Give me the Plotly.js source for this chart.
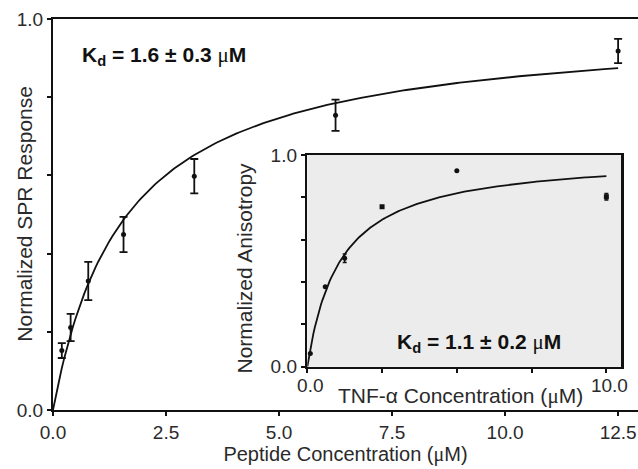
<!DOCTYPE html>
<html>
<head>
<meta charset="utf-8">
<script src="https://cdn.plot.ly/plotly-3.0.1.min.js"></script>
<style>html,body{margin:0;padding:0;background:#fff;}#chart{width:638px;height:469px;}</style>
</head>
<body>
<div id="chart"></div>
<script>
// Main SPR data
var sprConc = [0.195, 0.39, 0.78, 1.56, 3.125, 6.25, 12.5];
var sprResp = [0.152, 0.211, 0.330, 0.449, 0.598, 0.754, 0.918];
var sprErr  = [0.019, 0.035, 0.049, 0.045, 0.044, 0.040, 0.031];
var sprKd = 1.6, sprBmax = 0.986;

// Inset anisotropy data
var tnfConcCirc = [0.1, 0.6, 1.25, 5.0];
var anisoCirc   = [0.063, 0.378, 0.512, 0.926];
var anisoCircErr = [0, 0, 0.02, 0];
var tnfConcSq = [2.5, 10.0];
var anisoSq   = [0.756, 0.803];
var anisoSqErr = [0, 0.015];
var tnfKd = 1.1, tnfBmax = 1.0;

var mainTickVals = [0, 2.5, 5, 7.5, 10, 12.5];
var mainTickText = ["0.0", "2.5", "5.0", "7.5", "10.0", "12.5"];
var yTickVals = [0, 1.0];
var yTickText = ["0.0", "1.0"];
var yMinorVals = [0.2, 0.4, 0.6, 0.8];
var insetXTickVals = [0, 10];
var insetXTickText = ["0.0", "10.0"];
var insetXMinorVals = [2.5, 5, 7.5];

// Fitted single-site binding curves (from the Kd shown on the chart)
function fitCurve(kd, bmax, xmax) {
  var xs = [], ys = [];
  for (var i = 0; i <= 200; i++) {
    var x = xmax * i / 200;
    xs.push(x); ys.push(bmax * x / (kd + x));
  }
  return {x: xs, y: ys};
}
var sprFit = fitCurve(sprKd, sprBmax, 12.5);
var tnfFit = fitCurve(tnfKd, tnfBmax, 10.0);

var ink = '#111';
var txt = '#2a2a2a';
var fam = 'Liberation Sans, Arial, Helvetica, sans-serif';
var minorY = {tickvals: yMinorVals, ticks: 'outside', ticklen: 4, tickwidth: 2, tickcolor: ink, showgrid: false};

var traces = [
  {x: sprFit.x, y: sprFit.y, mode: 'lines', line: {color: ink, width: 1.8}, xaxis: 'x', yaxis: 'y', hoverinfo: 'skip'},
  {x: sprConc, y: sprResp, mode: 'markers', marker: {color: ink, size: 5},
   error_y: {type: 'data', array: sprErr, visible: true, color: ink, thickness: 1.8, width: 4},
   xaxis: 'x', yaxis: 'y'},
  {x: tnfFit.x, y: tnfFit.y, mode: 'lines', line: {color: ink, width: 1.8}, xaxis: 'x2', yaxis: 'y2', hoverinfo: 'skip'},
  {x: tnfConcCirc, y: anisoCirc, mode: 'markers', marker: {color: ink, size: 5, symbol: 'circle'},
   error_y: {type: 'data', array: anisoCircErr, visible: true, color: ink, thickness: 1.5, width: 2},
   xaxis: 'x2', yaxis: 'y2'},
  {x: tnfConcSq, y: anisoSq, mode: 'markers', marker: {color: ink, size: 5, symbol: 'square'},
   error_y: {type: 'data', array: anisoSqErr, visible: true, color: ink, thickness: 1.5, width: 2},
   xaxis: 'x2', yaxis: 'y2'}
];

var mu = '<span style="font-family:Liberation Serif, serif;font-weight:normal">μ</span>';

var layout = {
  width: 638, height: 469,
  margin: {l: 53, r: 0, t: 19, b: 59, pad: 0},
  paper_bgcolor: '#fff', plot_bgcolor: 'rgba(0,0,0,0)',
  showlegend: false,
  font: {family: fam, color: txt, size: 19},
  xaxis: {
    domain: [0, 1], range: [0, 12.94], tickvals: mainTickVals, ticktext: mainTickText,
    showline: true, linecolor: ink, linewidth: 2, mirror: true,
    ticks: 'outside', ticklen: 4, tickwidth: 2, tickcolor: ink,
    showgrid: false, zeroline: false, tickfont: {size: 19, color: txt},
    title: {text: 'Peptide Concentration (' + mu + 'M)', font: {size: 20, color: txt}, standoff: 4}
  },
  yaxis: {
    domain: [0, 1], range: [0, 1], tickvals: yTickVals, ticktext: yTickText, minor: minorY,
    showline: true, linecolor: ink, linewidth: 2,
    ticks: 'outside', ticklen: 4, tickwidth: 2, tickcolor: ink,
    showgrid: false, zeroline: false, tickfont: {size: 19, color: txt}
  },
  xaxis2: {
    domain: [0.4347, 0.9715], range: [0, 10.5], anchor: 'y2',
    tickvals: insetXTickVals, ticktext: insetXTickText,
    minor: {tickvals: insetXMinorVals, ticks: 'outside', ticklen: 4, tickwidth: 2, tickcolor: ink, showgrid: false},
    showline: true, linecolor: ink, linewidth: 2.5, mirror: true,
    ticks: 'outside', ticklen: 4, tickwidth: 2, tickcolor: ink, ticklabelshift: 3, ticklabelstandoff: -4,
    showgrid: false, zeroline: false, tickfont: {size: 19, color: txt}
  },
  yaxis2: {
    domain: [0.1107, 0.652], range: [0, 1], anchor: 'x2',
    tickvals: yTickVals, ticktext: yTickText, minor: minorY,
    showline: true, linecolor: ink, linewidth: 2.5, mirror: true,
    ticks: 'outside', ticklen: 4, tickwidth: 2, tickcolor: ink,
    showgrid: false, zeroline: false, tickfont: {size: 19, color: txt}
  },
  shapes: [
    {type: 'rect', xref: 'x2 domain', yref: 'y2 domain', x0: 0, x1: 1, y0: 0, y1: 1,
     fillcolor: '#ececec', line: {width: 0}, layer: 'below'}
  ],
  annotations: [
    {xref: 'paper', yref: 'paper', x: -0.0479, y: 0.502, textangle: -90, showarrow: false,
     text: 'Normalized SPR Response', font: {size: 21, color: txt}, xanchor: 'center', yanchor: 'middle'},
    {xref: 'paper', yref: 'paper', x: 0.3266, y: 0.362, textangle: -90, showarrow: false,
     text: 'Normalized Anisotropy', font: {size: 21, color: txt}, xanchor: 'center', yanchor: 'middle'},
    {xref: 'paper', yref: 'paper', x: 0.696, y: 0.036, showarrow: false,
     text: 'TNF-α Concentration (' + mu + 'M)', font: {size: 21, color: txt}, xanchor: 'center', yanchor: 'middle'},
    {xref: 'paper', yref: 'paper', x: 0.046, y: 0.905, showarrow: false, xanchor: 'left', yanchor: 'middle',
     text: '<b>K<sub>d</sub> = 1.6 ± 0.3 </b>' + mu + '<b>M</b>', font: {size: 21, color: '#111'}},
    {xref: 'paper', yref: 'paper', x: 0.585, y: 0.172, showarrow: false, xanchor: 'left', yanchor: 'middle',
     text: '<b>K<sub>d</sub> = 1.1 ± 0.2 </b>' + mu + '<b>M</b>', font: {size: 21, color: '#111'}}
  ]
};

Plotly.newPlot('chart', traces, layout, {displayModeBar: false, staticPlot: true});
</script>
</body>
</html>
